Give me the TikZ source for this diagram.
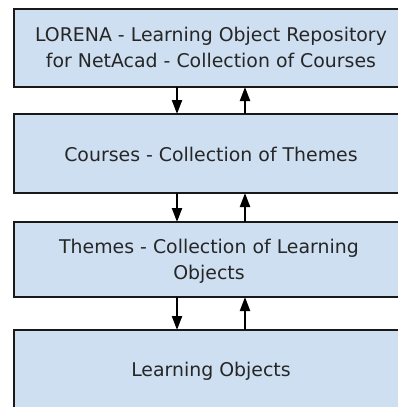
\documentclass[tikz,border=0pt]{standalone}
\usepackage{fontspec}
\setmainfont{DejaVu Sans}
\usetikzlibrary{arrows.meta}
\definecolor{layerfill}{HTML}{CEDFF1}
\begin{document}
\begin{tikzpicture}[x=1pt,y=-1pt,
  layer/.style={draw=black!90, line width=2.4pt, fill=layerfill, rectangle},
  label/.style={font=\fontsize{18.9}{26}\selectfont, align=center, text=black!85},
  flow/.style={line width=2.2pt, -{Triangle[width=10pt,length=14pt]}}]
  \useasboundingbox (0,0) rectangle (398,407);
  \clip (0,0) rectangle (398,407);
  % stacked layers, each wider than the page on the right
  \draw[layer] (14,9) rectangle (410,87);
  \draw[layer] (14,114) rectangle (410,193);
  \draw[layer] (14,222) rectangle (410,297);
  \draw[layer] (14,330) rectangle (410,420);
  \coordinate (b1) at (0,87);  \coordinate (t2) at (0,114);
  \coordinate (b2) at (0,193); \coordinate (t3) at (0,222);
  \coordinate (b3) at (0,297); \coordinate (t4) at (0,330);
  \node[label] (l1) at (211,47) {LORENA - Learning Object Repository\\for NetAcad - Collection of Courses};
  \node[label] (l2) at (211,154) {Courses - Collection of Themes};
  \node[label] (l3) at (209,261) {Themes - Collection of Learning\\Objects};
  \node[label] (l4) at (211,371) {Learning Objects};
  % links between neighbouring layers
  \foreach \a/\b in {b1/t2, b2/t3, b3/t4} {
    \draw[flow] (177,0 |- \a) -- (177,0 |- \b);
    \draw[flow] (245,0 |- \b) -- (245,0 |- \a);
  }
\end{tikzpicture}
\end{document}
